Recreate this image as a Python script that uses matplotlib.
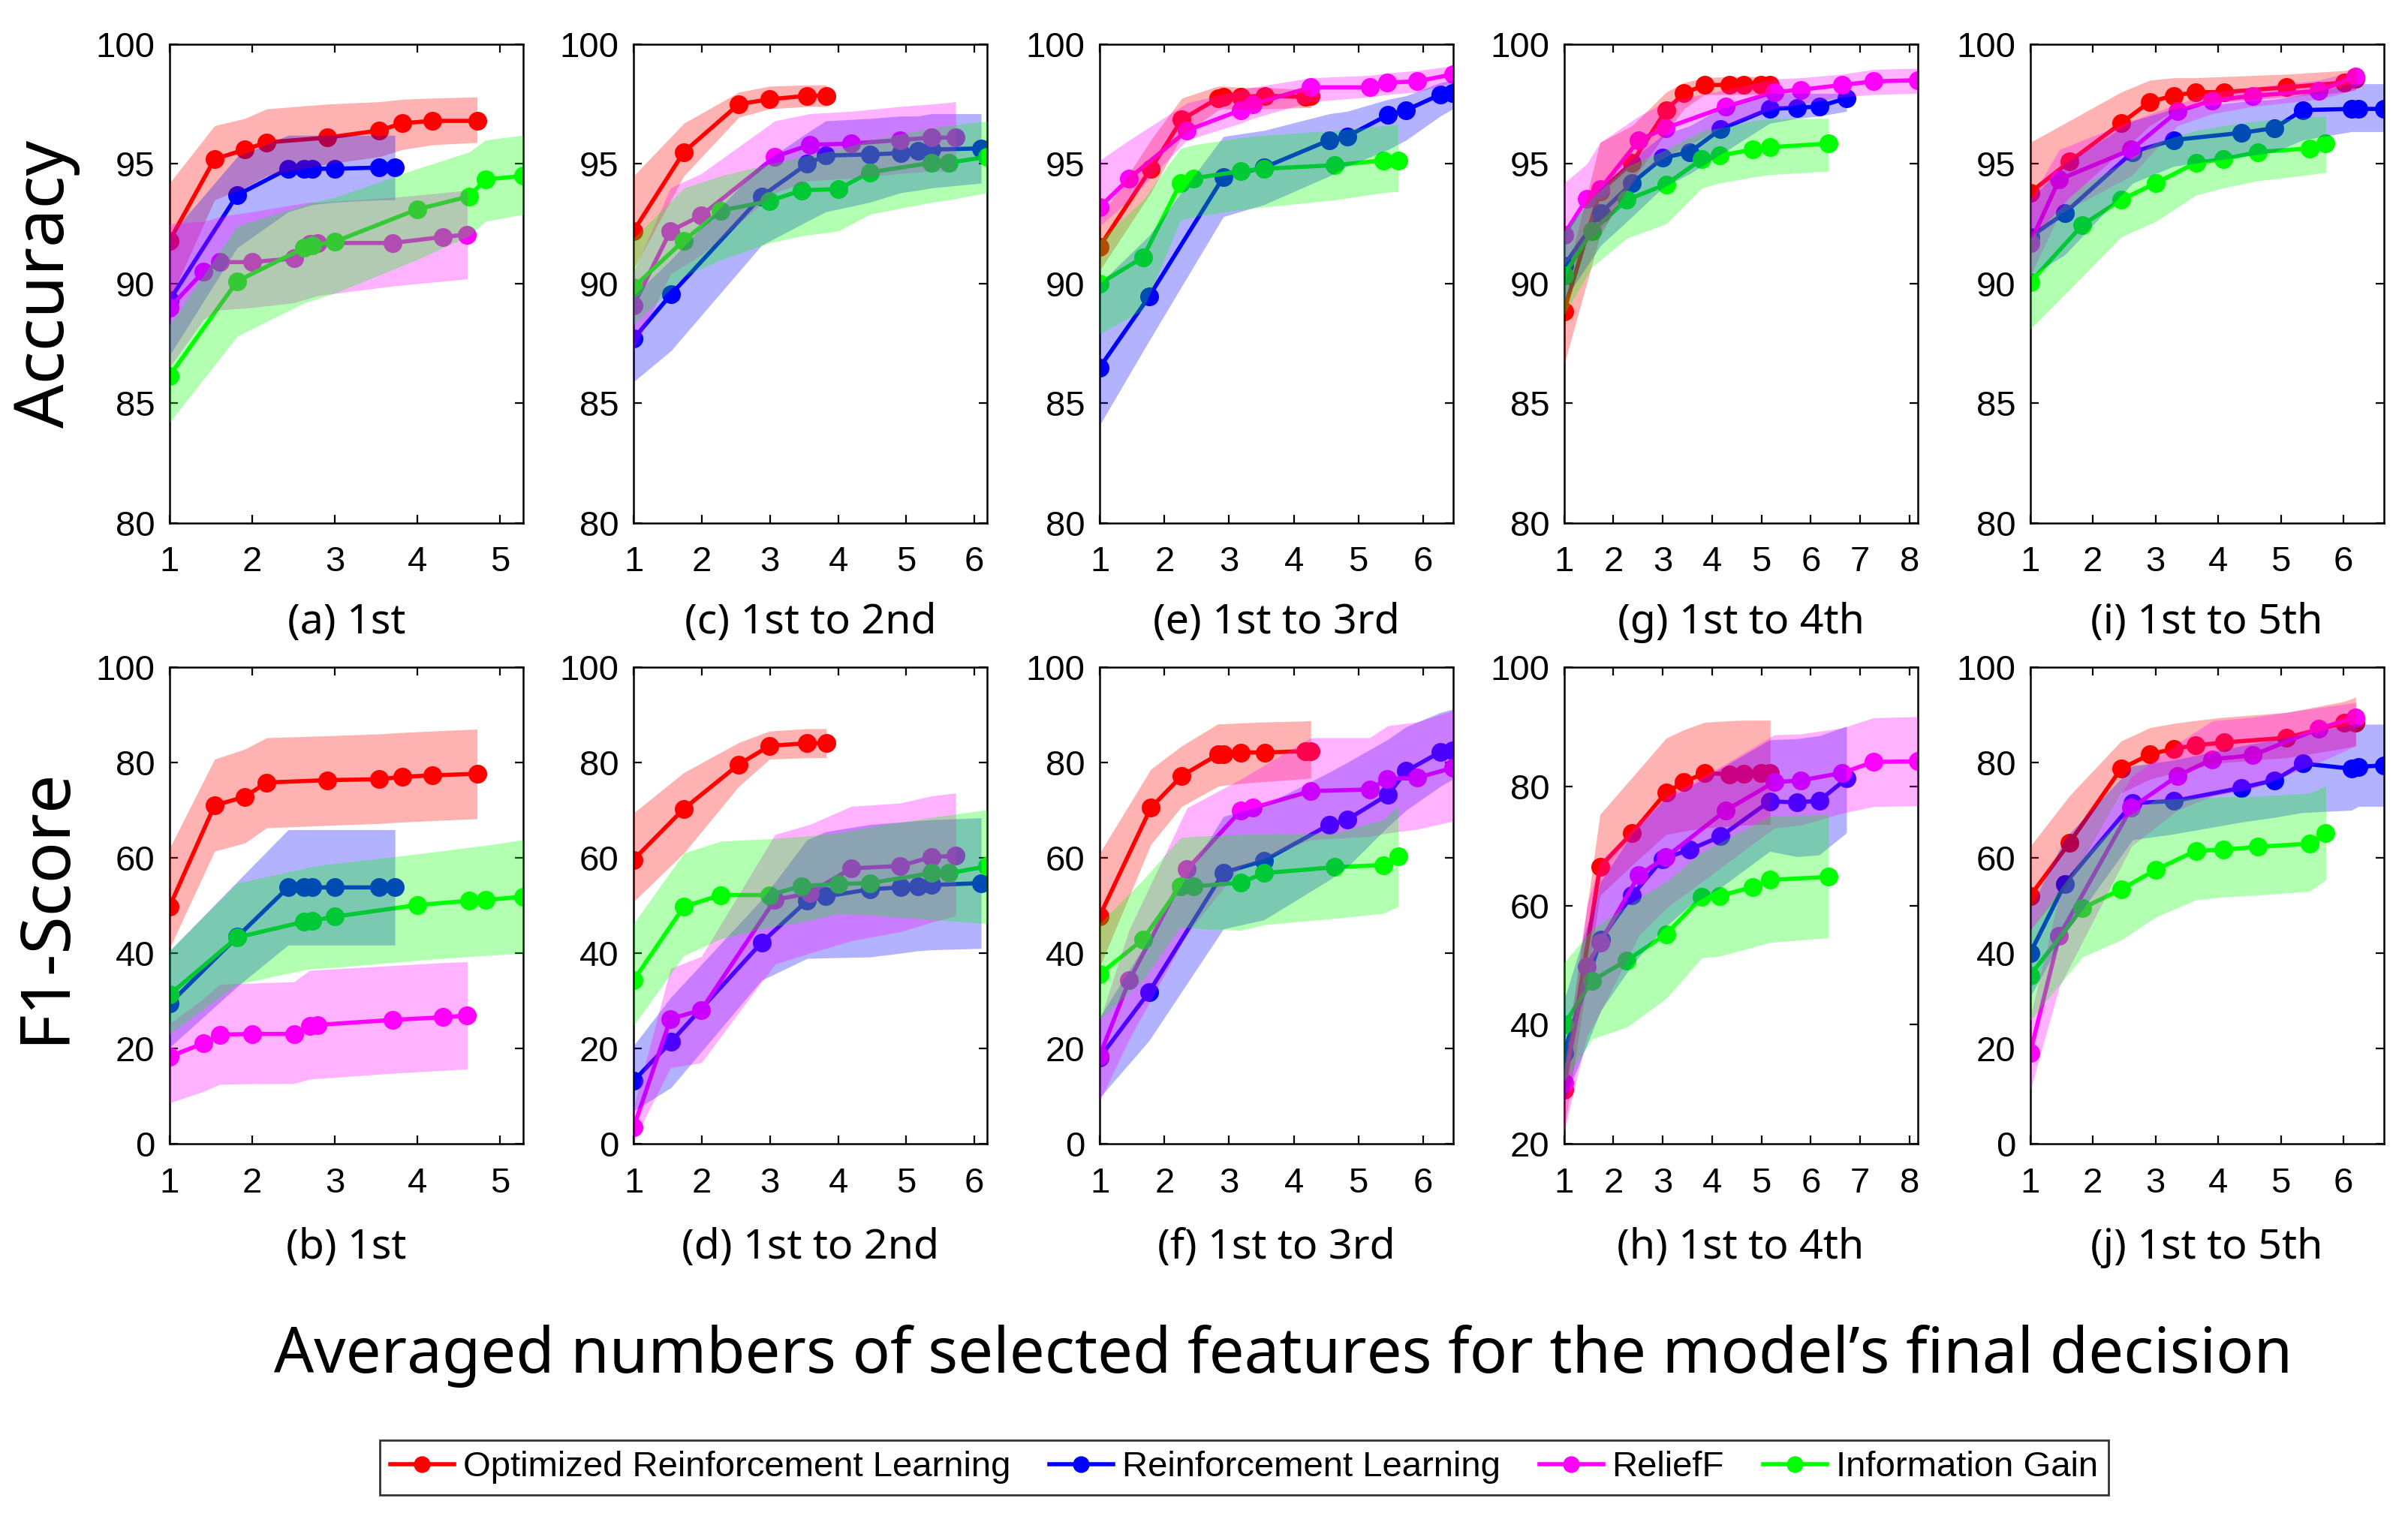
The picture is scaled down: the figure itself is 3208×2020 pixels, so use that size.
import matplotlib.pyplot as plt
from matplotlib.lines import Line2D

plt.rcParams['font.family'] = ['Liberation Sans', 'DejaVu Sans']
plt.rcParams['axes.unicode_minus'] = False

methods = ['Optimized Reinforcement Learning', 'Reinforcement Learning', 'ReliefF', 'Information Gain']
colors = ['#FF0000', '#0000FF', '#FF00FF', '#00FF00']

# averaged numbers of selected features (shared by the accuracy / F1 panel of one column)
x_ab_orl = [1, 1.545, 1.909, 2.175, 2.906, 3.539, 3.815, 4.18, 4.72]
x_ab_rl = [1, 1.818, 2.435, 2.63, 2.727, 2.997, 3.539, 3.727]
x_ab_rf = [1, 1.412, 1.607, 1.997, 2.506, 2.695, 2.792, 3.701, 4.302, 4.601]
x_ab_ig = [1, 1.818, 2.63, 2.727, 2.997, 3.994, 4.627, 4.821, 5.276]

x_cd_orl = [1, 1.738, 2.544, 2.995, 3.545, 3.828]
x_cd_rl = [1, 1.55, 2.877, 3.545, 3.82, 4.468, 4.92, 5.175, 5.371, 6.098]
x_cd_rf = [1, 1.542, 1.994, 3.074, 3.584, 4.193, 4.912, 5.371, 5.725]
x_cd_ig = [1, 1.738, 2.28, 2.995, 3.466, 4.005, 4.468, 5.371, 5.627, 6.185]

x_ef_orl = [1, 1.79, 2.268, 2.829, 2.912, 3.182, 3.556, 4.18, 4.263]
x_ef_rl = [1, 1.76, 2.912, 3.54, 4.554, 4.824, 5.46, 5.738, 6.266, 6.457]
x_ef_rf = [1, 1.457, 2.351, 3.182, 3.369, 4.263, 5.177, 5.447, 5.904, 6.466]
x_ef_ig = [1, 1.67, 2.247, 2.455, 3.182, 3.546, 4.637, 5.385, 5.613]

x_gh_orl = [1, 1.73, 2.38, 3.07, 3.431, 3.849, 4.353, 4.636, 4.988, 5.178]
x_gh_rl = [1, 1.745, 2.38, 2.997, 3.551, 4.174, 5.167, 5.72, 6.171, 6.724]
x_gh_rf = [1, 1.461, 1.733, 2.519, 3.062, 4.283, 5.26, 5.802, 6.633, 7.268, 8.162]
x_gh_ig = [1, 1.57, 2.275, 3.07, 3.794, 4.147, 4.826, 5.167, 6.36]

x_ij_orl = [1, 1.625, 2.45, 2.91, 3.288, 3.635, 4.09, 5.089, 6.009, 6.196]
x_ij_rl = [1, 1.551, 2.636, 3.288, 4.372, 4.902, 5.349, 6.13, 6.239, 6.642]
x_ij_rf = [1, 1.464, 2.615, 3.352, 3.908, 4.546, 5.609, 6.196]
x_ij_ig = [1, 1.833, 2.45, 3.006, 3.648, 4.082, 4.633, 5.458, 5.718]

# (a) accuracy, 1st
a_orl = [91.8, 95.2, 95.6, 95.9, 96.1, 96.4, 96.7, 96.8, 96.8]
a_orl_lo = [89.3, 93.5, 94.0, 94.5, 95.0, 95.3, 95.6, 95.8, 95.9]
a_orl_hi = [94.2, 96.6, 96.9, 97.3, 97.5, 97.6, 97.7, 97.75, 97.8]
a_rl = [89.3, 93.7, 94.8, 94.8, 94.8, 94.8, 94.85, 94.85]
a_rl_lo = [87.0, 91.5, 93.0, 93.2, 93.3, 93.4, 93.5, 93.5]
a_rl_hi = [92.0, 95.3, 96.2, 96.2, 96.2, 96.2, 96.2, 96.2]
a_rf = [89.0, 90.5, 90.9, 90.9, 91.05, 91.65, 91.7, 91.7, 91.95, 92.05]
a_rf_lo = [86.5, 88.5, 88.9, 89.0, 89.2, 89.4, 89.5, 89.9, 90.1, 90.2]
a_rf_hi = [92.5, 92.6, 92.8, 93.0, 93.3, 93.4, 93.4, 93.6, 93.8, 93.9]
a_ig = [86.15, 90.1, 91.5, 91.6, 91.75, 93.1, 93.65, 94.35, 94.5]
a_ig_lo = [84.2, 87.8, 89.2, 89.3, 89.6, 91.0, 92.0, 92.6, 92.9]
a_ig_hi = [88.3, 92.4, 93.3, 93.4, 93.6, 94.8, 95.5, 96.0, 96.2]

# (b) F1, 1st
b_orl = [49.75, 71.0, 72.8, 75.8, 76.3, 76.5, 77.0, 77.3, 77.65]
b_orl_lo = [41.0, 61.4, 63.1, 66.3, 66.8, 67.2, 67.5, 67.8, 68.2]
b_orl_hi = [62.0, 80.7, 82.8, 85.2, 85.6, 86.0, 86.3, 86.6, 87.0]
b_rl = [29.4, 43.4, 53.8, 53.8, 53.8, 53.8, 53.8, 53.8]
b_rl_lo = [20.2, 33.0, 41.7, 41.7, 41.7, 41.7, 41.7, 41.7]
b_rl_hi = [40.5, 55.0, 65.9, 65.9, 65.9, 65.9, 65.9, 65.9]
b_rf = [18.3, 21.1, 22.9, 23.05, 23.05, 24.8, 24.95, 26.0, 26.55, 26.9]
b_rf_lo = [8.6, 11.0, 12.5, 12.6, 12.65, 13.6, 13.7, 14.8, 15.4, 15.7]
b_rf_hi = [25.2, 30.5, 33.5, 33.7, 34.0, 36.4, 36.5, 37.4, 38.0, 38.2]
b_ig = [31.3, 43.3, 46.6, 46.8, 47.65, 50.1, 51.0, 51.15, 51.85]
b_ig_lo = [23.0, 33.5, 36.5, 36.7, 37.0, 38.5, 39.3, 39.5, 40.0]
b_ig_hi = [40.5, 54.7, 57.8, 58.2, 58.8, 60.8, 62.2, 62.6, 63.8]

# (c) accuracy, 1st to 2nd
c_orl = [92.2, 95.5, 97.5, 97.7, 97.85, 97.85]
c_orl_lo = [90.6, 94.5, 96.95, 97.3, 97.4, 97.4]
c_orl_hi = [94.5, 96.7, 98.0, 98.25, 98.3, 98.3]
c_rl = [87.7, 89.55, 93.65, 95.0, 95.35, 95.4, 95.45, 95.55, 95.6, 95.65]
c_rl_lo = [85.9, 87.2, 91.6, 92.6, 93.0, 93.4, 93.8, 93.9, 94.0, 94.2]
c_rl_hi = [89.5, 91.0, 95.0, 96.3, 96.8, 96.9, 97.0, 97.0, 97.1, 97.1]
c_rf = [89.1, 92.2, 92.85, 95.3, 95.8, 95.85, 96.0, 96.1, 96.1]
c_rf_lo = [87.2, 90.4, 91.2, 93.8, 94.3, 94.4, 94.6, 94.7, 94.7]
c_rf_hi = [90.5, 94.0, 94.6, 96.8, 97.1, 97.2, 97.4, 97.5, 97.6]
c_ig = [89.85, 91.8, 93.05, 93.45, 93.9, 93.95, 94.65, 95.05, 95.05, 95.3]
c_ig_lo = [88.3, 90.3, 91.0, 91.7, 92.0, 92.2, 92.9, 93.4, 93.5, 93.8]
c_ig_hi = [91.9, 94.0, 94.5, 95.0, 95.3, 95.6, 96.0, 96.5, 96.6, 96.8]

# (d) F1, 1st to 2nd
d_orl = [59.6, 70.3, 79.6, 83.5, 84.05, 84.05]
d_orl_lo = [50.8, 61.0, 75.0, 80.7, 81.0, 81.0]
d_orl_hi = [69.4, 77.9, 84.2, 86.6, 87.1, 87.1]
d_rl = [13.2, 21.4, 42.2, 51.0, 51.9, 53.4, 53.8, 54.1, 54.3, 54.7]
d_rl_lo = [6.9, 11.8, 34.3, 38.9, 39.0, 39.2, 40.0, 40.5, 40.7, 41.0]
d_rl_hi = [20.6, 30.8, 51.2, 63.8, 65.5, 67.0, 67.5, 67.8, 68.0, 68.4]
d_rf = [3.4, 26.2, 28.1, 51.2, 52.6, 57.8, 58.3, 60.2, 60.4]
d_rf_lo = [0.6, 16.0, 17.0, 37.7, 40.0, 42.6, 44.5, 46.5, 47.9]
d_rf_hi = [7.6, 36.8, 39.3, 64.9, 67.0, 70.8, 71.5, 73.0, 73.6]
d_ig = [34.3, 49.75, 52.2, 52.2, 54.1, 54.5, 54.7, 56.8, 56.8, 58.2]
d_ig_lo = [24.8, 39.5, 43.0, 45.5, 46.5, 48.3, 48.0, 47.0, 46.8, 46.2]
d_ig_hi = [46.2, 61.0, 63.5, 64.0, 64.5, 65.2, 66.5, 68.5, 69.0, 70.1]

# (e) accuracy, 1st to 3rd
e_orl = [91.55, 94.8, 96.85, 97.75, 97.8, 97.8, 97.85, 97.8, 97.85]
e_orl_lo = [90.55, 93.8, 96.15, 97.25, 97.3, 97.3, 97.3, 97.35, 97.35]
e_orl_hi = [92.7, 96.0, 97.75, 98.25, 98.25, 98.2, 98.2, 98.1, 98.1]
e_rl = [86.5, 89.45, 94.45, 94.85, 96.0, 96.15, 97.05, 97.25, 97.9, 97.95]
e_rl_lo = [84.1, 87.6, 92.8, 93.3, 94.5, 94.9, 95.6, 96.0, 97.0, 97.3]
e_rl_hi = [90.0, 92.0, 96.15, 96.4, 97.1, 97.2, 97.7, 97.85, 98.4, 98.5]
e_rf = [93.2, 94.4, 96.4, 97.25, 97.5, 98.2, 98.2, 98.4, 98.45, 98.75]
e_rf_lo = [92.4, 93.5, 96.0, 96.7, 96.9, 97.6, 97.8, 97.9, 98.0, 98.4]
e_rf_hi = [95.15, 96.0, 97.55, 98.1, 98.2, 98.6, 98.7, 98.8, 98.9, 99.1]
e_ig = [90.0, 91.1, 94.2, 94.4, 94.7, 94.8, 94.95, 95.15, 95.15]
e_ig_lo = [87.9, 88.9, 92.65, 92.8, 93.1, 93.2, 93.5, 93.8, 93.85]
e_ig_hi = [91.8, 93.5, 95.65, 95.8, 96.1, 96.2, 96.4, 96.6, 96.65]

# (f) F1, 1st to 3rd
f_orl = [47.8, 70.5, 77.2, 81.7, 81.7, 82.1, 82.1, 82.4, 82.4]
f_orl_lo = [37.1, 62.8, 70.8, 75.0, 75.2, 75.6, 76.0, 76.6, 76.8]
f_orl_hi = [61.0, 78.6, 83.5, 88.1, 88.1, 88.3, 88.5, 88.7, 88.8]
f_rl = [18.1, 31.8, 56.9, 59.4, 67.0, 68.0, 73.3, 78.2, 82.2, 82.6]
f_rl_lo = [9.7, 21.6, 45.1, 47.0, 55.4, 58.0, 66.6, 70.0, 75.0, 76.5]
f_rl_hi = [26.6, 43.0, 68.7, 71.0, 78.0, 80.0, 84.9, 87.5, 90.5, 91.2]
f_rf = [18.5, 34.3, 57.6, 69.9, 70.5, 74.0, 74.35, 76.6, 76.8, 78.9]
f_rf_lo = [9.0, 22.0, 44.1, 58.2, 59.0, 63.8, 64.5, 65.2, 66.0, 67.7]
f_rf_hi = [25.9, 45.0, 70.5, 76.5, 78.0, 85.2, 85.2, 87.7, 88.5, 90.9]
f_ig = [35.6, 42.9, 54.1, 54.0, 54.8, 56.8, 58.05, 58.5, 60.3]
f_ig_lo = [26.2, 34.3, 45.5, 45.2, 44.8, 46.0, 47.3, 48.35, 49.75]
f_ig_hi = [46.2, 55.4, 64.2, 64.5, 64.9, 65.0, 65.2, 68.0, 70.8]

# (g) accuracy, 1st to 4th
g_orl = [88.85, 93.85, 95.05, 97.25, 97.95, 98.3, 98.3, 98.3, 98.3, 98.3]
g_orl_lo = [86.6, 92.0, 94.3, 96.3, 97.3, 97.9, 97.9, 97.9, 97.9, 97.9]
g_orl_hi = [89.9, 95.9, 96.6, 98.0, 98.4, 98.6, 98.65, 98.65, 98.65, 98.65]
g_rl = [90.75, 92.95, 94.2, 95.25, 95.5, 96.45, 97.3, 97.35, 97.4, 97.75]
g_rl_lo = [89.3, 91.6, 92.8, 94.0, 94.6, 95.4, 96.7, 96.9, 97.0, 97.2]
g_rl_hi = [92.2, 94.0, 95.2, 96.2, 96.6, 97.3, 97.95, 97.95, 97.95, 97.95]
g_rf = [92.05, 93.55, 93.95, 96.0, 96.5, 97.4, 98.0, 98.1, 98.3, 98.45, 98.5]
g_rf_lo = [90.8, 91.8, 92.2, 94.6, 95.3, 96.6, 97.3, 97.5, 97.8, 97.9, 97.95]
g_rf_hi = [94.2, 95.0, 95.9, 97.0, 97.6, 98.1, 98.55, 98.6, 98.75, 98.95, 99.0]
g_ig = [90.35, 92.2, 93.5, 94.15, 95.2, 95.35, 95.6, 95.7, 95.85]
g_ig_lo = [88.7, 90.7, 91.9, 92.5, 94.0, 94.2, 94.45, 94.55, 94.7]
g_ig_hi = [92.2, 93.6, 94.9, 95.6, 96.4, 96.5, 96.8, 96.9, 96.9]

# (h) F1, 1st to 4th
h_orl = [29.1, 66.5, 72.2, 79.0, 80.7, 82.25, 82.0, 82.1, 82.2, 82.2]
h_orl_lo = [22.0, 61.7, 66.8, 71.9, 72.5, 73.0, 73.3, 73.5, 73.6, 73.6]
h_orl_hi = [32.0, 75.3, 81.5, 88.1, 89.5, 90.75, 91.0, 91.1, 91.1, 91.1]
h_rl = [35.3, 54.3, 61.7, 67.8, 69.4, 71.6, 77.5, 77.3, 77.6, 81.3]
h_rl_lo = [27.1, 42.4, 50.0, 56.0, 60.0, 63.0, 69.1, 68.2, 68.5, 72.2]
h_rl_hi = [44.1, 64.0, 72.0, 77.5, 80.0, 83.0, 87.8, 88.0, 88.5, 90.1]
h_rf = [30.2, 49.8, 53.8, 65.1, 68.1, 76.0, 80.7, 81.0, 82.25, 84.1, 84.2]
h_rf_lo = [22.0, 38.0, 42.0, 55.0, 59.5, 67.0, 73.0, 73.5, 75.5, 76.6, 76.75]
h_rf_hi = [32.8, 60.0, 67.4, 74.0, 78.2, 83.8, 88.65, 88.8, 89.8, 91.5, 91.7]
h_ig = [40.0, 47.4, 50.8, 55.2, 61.4, 61.6, 63.1, 64.3, 64.8]
h_ig_lo = [30.5, 37.6, 39.6, 44.4, 51.2, 51.5, 53.0, 53.8, 54.6]
h_ig_hi = [50.4, 56.0, 60.0, 64.0, 69.0, 70.5, 73.5, 75.0, 75.3]

# (i) accuracy, 1st to 5th
i_orl = [93.8, 95.1, 96.7, 97.6, 97.85, 98.0, 98.0, 98.2, 98.4, 98.55]
i_orl_lo = [91.8, 93.6, 95.5, 96.6, 97.2, 97.5, 97.6, 97.8, 98.0, 98.1]
i_orl_hi = [95.9, 96.8, 98.0, 98.5, 98.6, 98.6, 98.65, 98.75, 98.9, 99.0]
i_rl = [91.95, 92.95, 95.5, 96.0, 96.3, 96.5, 97.25, 97.3, 97.3, 97.3]
i_rl_lo = [90.3, 91.2, 94.2, 94.9, 95.3, 95.5, 96.0, 96.35, 96.35, 96.35]
i_rl_hi = [93.5, 95.0, 96.8, 97.3, 97.6, 97.7, 97.9, 98.35, 98.35, 98.35]
i_rf = [91.7, 94.35, 95.6, 97.2, 97.65, 97.85, 98.05, 98.65]
i_rf_lo = [90.3, 92.9, 94.5, 96.6, 97.1, 97.4, 97.7, 98.1]
i_rf_hi = [93.5, 95.6, 96.8, 97.5, 98.0, 98.2, 98.5, 98.9]
i_ig = [90.05, 92.45, 93.5, 94.2, 95.05, 95.2, 95.5, 95.65, 95.85]
i_ig_lo = [88.1, 90.3, 91.95, 92.6, 93.7, 94.0, 94.3, 94.55, 94.65]
i_ig_hi = [91.9, 94.1, 95.0, 95.9, 96.4, 96.6, 96.8, 96.95, 97.0]

# (j) F1, 1st to 5th
j_orl = [52.0, 63.1, 78.7, 81.7, 82.9, 83.6, 84.2, 85.2, 88.3, 88.3]
j_orl_lo = [44.8, 55.0, 73.6, 76.5, 77.8, 78.8, 80.0, 81.0, 83.0, 83.5]
j_orl_hi = [62.4, 73.0, 84.5, 87.3, 88.2, 88.8, 89.5, 90.5, 92.8, 93.7]
j_rl = [40.0, 54.5, 71.5, 71.9, 74.7, 76.3, 79.8, 78.7, 79.1, 79.4]
j_rl_lo = [30.8, 44.0, 63.8, 65.0, 67.5, 68.5, 69.5, 70.0, 70.8, 70.8]
j_rl_hi = [49.4, 64.0, 79.3, 80.5, 83.5, 84.8, 85.9, 88.05, 88.05, 88.05]
j_rf = [19.1, 43.6, 70.5, 77.2, 80.7, 81.5, 87.1, 89.5]
j_rf_lo = [11.1, 32.9, 62.4, 70.0, 73.0, 74.5, 80.0, 83.5]
j_rf_hi = [26.6, 52.0, 77.0, 84.0, 88.75, 89.5, 91.5, 92.6]
j_ig = [35.35, 49.4, 53.4, 57.5, 61.5, 61.7, 62.3, 63.0, 65.2]
j_ig_lo = [25.9, 39.2, 42.75, 47.6, 51.2, 51.8, 52.2, 53.0, 55.4]
j_ig_hi = [44.8, 60.0, 68.0, 72.2, 72.6, 72.8, 72.9, 73.6, 75.05]

captions_top = ['(a) 1st', '(c) 1st to 2nd', '(e) 1st to 3rd', '(g) 1st to 4th', '(i) 1st to 5th']
captions_bot = ['(b) 1st', '(d) 1st to 2nd', '(f) 1st to 3rd', '(h) 1st to 4th', '(j) 1st to 5th']

xs = [
    (x_ab_orl, x_ab_rl, x_ab_rf, x_ab_ig),
    (x_cd_orl, x_cd_rl, x_cd_rf, x_cd_ig),
    (x_ef_orl, x_ef_rl, x_ef_rf, x_ef_ig),
    (x_gh_orl, x_gh_rl, x_gh_rf, x_gh_ig),
    (x_ij_orl, x_ij_rl, x_ij_rf, x_ij_ig),
]
acc = [
    [(a_orl, a_orl_lo, a_orl_hi), (a_rl, a_rl_lo, a_rl_hi), (a_rf, a_rf_lo, a_rf_hi), (a_ig, a_ig_lo, a_ig_hi)],
    [(c_orl, c_orl_lo, c_orl_hi), (c_rl, c_rl_lo, c_rl_hi), (c_rf, c_rf_lo, c_rf_hi), (c_ig, c_ig_lo, c_ig_hi)],
    [(e_orl, e_orl_lo, e_orl_hi), (e_rl, e_rl_lo, e_rl_hi), (e_rf, e_rf_lo, e_rf_hi), (e_ig, e_ig_lo, e_ig_hi)],
    [(g_orl, g_orl_lo, g_orl_hi), (g_rl, g_rl_lo, g_rl_hi), (g_rf, g_rf_lo, g_rf_hi), (g_ig, g_ig_lo, g_ig_hi)],
    [(i_orl, i_orl_lo, i_orl_hi), (i_rl, i_rl_lo, i_rl_hi), (i_rf, i_rf_lo, i_rf_hi), (i_ig, i_ig_lo, i_ig_hi)],
]
f1 = [
    [(b_orl, b_orl_lo, b_orl_hi), (b_rl, b_rl_lo, b_rl_hi), (b_rf, b_rf_lo, b_rf_hi), (b_ig, b_ig_lo, b_ig_hi)],
    [(d_orl, d_orl_lo, d_orl_hi), (d_rl, d_rl_lo, d_rl_hi), (d_rf, d_rf_lo, d_rf_hi), (d_ig, d_ig_lo, d_ig_hi)],
    [(f_orl, f_orl_lo, f_orl_hi), (f_rl, f_rl_lo, f_rl_hi), (f_rf, f_rf_lo, f_rf_hi), (f_ig, f_ig_lo, f_ig_hi)],
    [(h_orl, h_orl_lo, h_orl_hi), (h_rl, h_rl_lo, h_rl_hi), (h_rf, h_rf_lo, h_rf_hi), (h_ig, h_ig_lo, h_ig_hi)],
    [(j_orl, j_orl_lo, j_orl_hi), (j_rl, j_rl_lo, j_rl_hi), (j_rf, j_rf_lo, j_rf_hi), (j_ig, j_ig_lo, j_ig_hi)],
]

title_font = ['Noto Sans', 'DejaVu Sans']

fig = plt.figure(figsize=(16.04, 10.1), dpi=200)

lefts = [0.0704, 0.2631, 0.4567, 0.6495, 0.8431]
width = 0.1468


def draw_panel(ax, xcol, series, ylim, yticks):
    # lines first, shaded spread drawn over them (like the original)
    for x, (y, lo, hi), c in zip(xcol, series, colors):
        ax.plot(x, y, '-o', color=c, lw=2.0, ms=8, zorder=2)
    for x, (y, lo, hi), c in zip(xcol, series, colors):
        ax.fill_between(x, lo, hi, color=c, alpha=0.3, lw=0, zorder=3)
    xmax = max(max(x) for x in xcol)
    ax.set_xlim(1, xmax)
    ax.set_ylim(*ylim)
    ax.set_yticks(yticks)
    ax.set_xticks(range(1, int(xmax) + 1))
    ax.tick_params(direction='in', top=True, right=True, length=4, width=0.8, labelsize=17)
    ax.tick_params(axis='x', pad=11)
    ax.tick_params(axis='y', pad=7)
    for s in ax.spines.values():
        s.set_linewidth(0.9)


for k in range(5):
    ax_t = fig.add_axes([lefts[k], 0.655, width, 0.3158])
    draw_panel(ax_t, xs[k], acc[k], (80, 100), [80, 85, 90, 95, 100])
    fig.text(lefts[k] + width / 2, 0.5896, captions_top[k], ha='center', va='center',
             fontsize=20, family=title_font)

    ax_b = fig.add_axes([lefts[k], 0.2455, width, 0.3144])
    if k == 3:
        draw_panel(ax_b, xs[k], f1[k], (20, 100), [20, 40, 60, 80, 100])
    else:
        draw_panel(ax_b, xs[k], f1[k], (0, 100), [0, 20, 40, 60, 80, 100])
    fig.text(lefts[k] + width / 2, 0.1772, captions_bot[k], ha='center', va='center',
             fontsize=20, family=title_font)

fig.text(0.019, 0.8125, 'Accuracy', rotation=90, ha='center', va='center', fontsize=33, family=title_font)
fig.text(0.019, 0.4024, 'F1-Score', rotation=90, ha='center', va='center', fontsize=33, family=title_font)
fig.text(0.533, 0.1054, 'Averaged numbers of selected features for the model\u2019s final decision',
         ha='center', va='center', fontsize=30, family=title_font)

handles = [Line2D([], [], color=c, marker='o', lw=2.0, ms=7) for c in colors]
leg = fig.legend(handles, methods, loc='center', bbox_to_anchor=(0.5166, 0.032), ncol=4,
                 frameon=True, fancybox=False, edgecolor='black', fontsize=17,
                 handlelength=1.8, handletextpad=0.25, columnspacing=1.1, borderpad=0.3,
                 numpoints=1)
leg.get_frame().set_linewidth(1.0)

fig.savefig('out.png', dpi=200)
